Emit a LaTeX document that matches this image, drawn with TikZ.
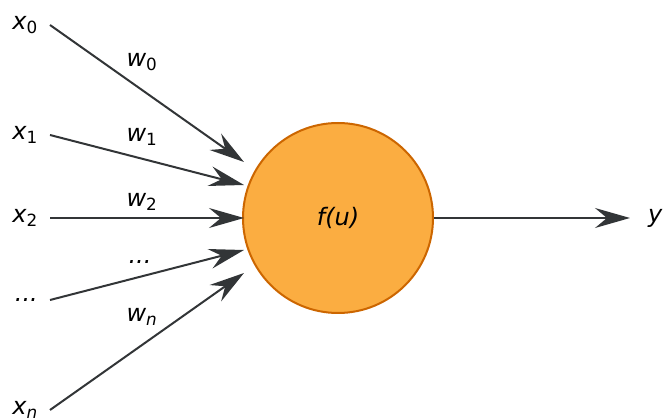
\documentclass[tikz,border=0pt]{standalone}
\usepackage{fontspec}
\setmainfont{DejaVu Sans}
\usetikzlibrary{arrows.meta, positioning, calc}
\definecolor{neuronfill}{RGB}{251, 173, 65}
\definecolor{neurondraw}{RGB}{204, 102, 0}
\definecolor{wire}{RGB}{50, 53, 55}

\begin{document}
\begin{tikzpicture}[
        x=1pt, y=-1pt,
        neuron/.style = {draw=neurondraw, line width=2pt, fill=neuronfill, circle, minimum size=190pt, inner sep=0pt, font=\fontsize{24}{28}\selectfont\itshape},
        inlabel/.style = {anchor=east, inner xsep=12pt, inner ysep=0pt, font=\fontsize{24}{28}\selectfont\itshape},
        weight/.style = {inner sep=0pt, font=\fontsize{24}{28}\selectfont\itshape},
        arrow/.style = {line width=2pt, wire, ->, >={Stealth[length=35pt, width=20pt, inset=12pt]}}
    ]
    \useasboundingbox (0,0) rectangle (665,419);
    % Nodes
    \node [neuron] (neuron) at (338,218) {f(u)};
    \node [inlabel] (x0) at (50,25) {x\textsubscript{\upshape 0}};
    \node [inlabel] (x1) at (50,135) {x\textsubscript{\upshape 1}};
    \node [inlabel] (x2) at (50,218) {x\textsubscript{\upshape 2}};
    \node [inlabel] (xdots) at (50,300) {...};
    \node [inlabel] (xn) at (50,410) {x\textsubscript{n}};
    \node [inlabel, anchor=west, inner xsep=18pt] (y) at (630,218) {y};

    % Weights
    \node [weight] (w0) at (142,62) {w\textsubscript{\upshape 0}};
    \node [weight] (w1) at (142,137) {w\textsubscript{\upshape 1}};
    \node [weight] (w2) at (142,202) {w\textsubscript{\upshape 2}};
    \node [weight] (wdots) at (140,262) {...};
    \node [weight] (wn) at (142,317) {w\textsubscript{n}};

    % Connections
    \draw [arrow] (x0.east) -- ($(neuron.west)+(2,-56)$);
    \draw [arrow] (x1.east) -- ($(neuron.west)+(2,-33)$);
    \draw [arrow] (x2.east) -- ($(neuron.west)+(2,0)$);
    \draw [arrow] (xdots.east) -- ($(neuron.west)+(2,32)$);
    \draw [arrow] (xn.east) -- ($(neuron.west)+(2,55)$);
    \draw [arrow] (neuron) -- (y);
\end{tikzpicture}
\end{document}
